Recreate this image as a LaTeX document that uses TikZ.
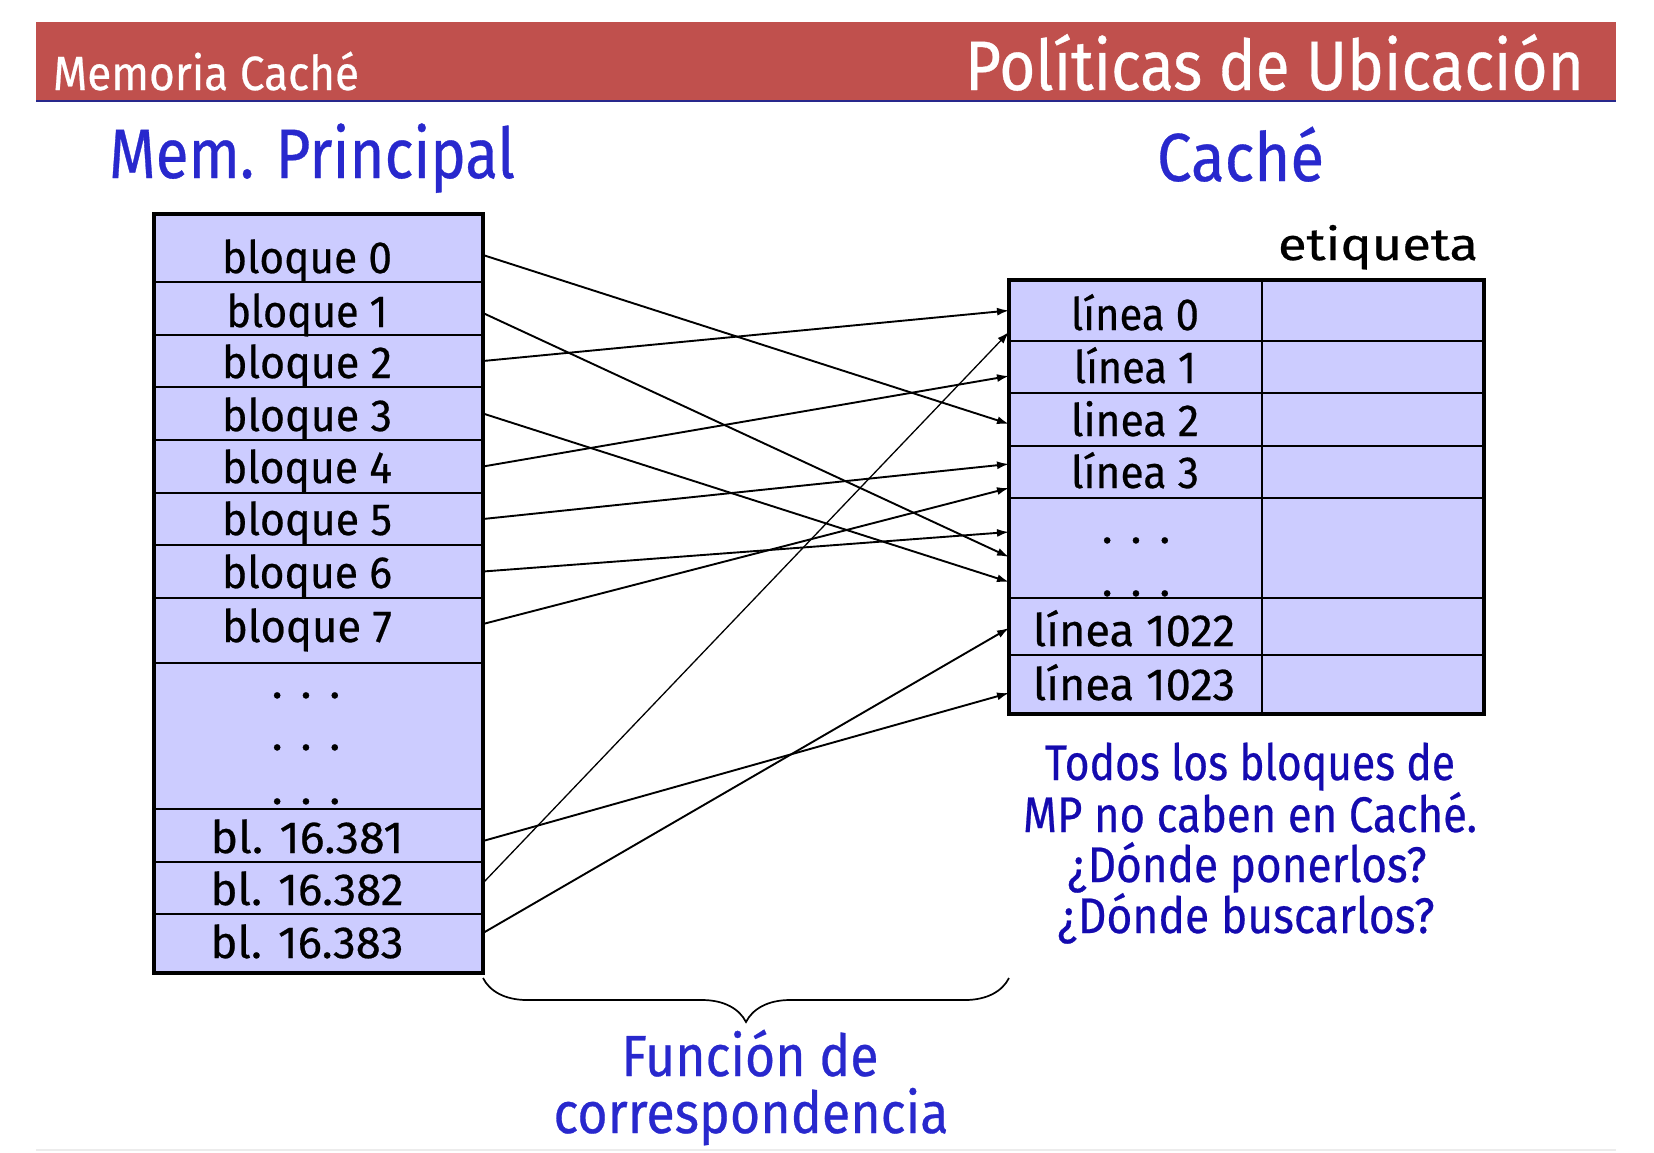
\documentclass[tikz,border=0pt]{standalone}
\usepackage{fontspec}
\setmainfont{Fira Sans}[FakeBold=0.5]
\usepackage{graphicx}
\usetikzlibrary{arrows.meta,decorations.pathreplacing}
\definecolor{hdrred}{RGB}{192,80,77}
\definecolor{hdrline}{RGB}{40,40,140}
\definecolor{cellfill}{RGB}{204,204,255}
\definecolor{titleblue}{RGB}{40,40,205}
\definecolor{qblue}{RGB}{20,10,175}
\newcommand{\tw}[2]{\resizebox{#1pt}{\height}{#2}}
\newcommand{\fs}[1]{\fontsize{#1pt}{#1pt}\selectfont}
\begin{document}
\begin{tikzpicture}[x=1pt,y=-1pt,
  cell/.style={draw=black, line width=1.8pt, fill=cellfill, inner sep=0pt, outer sep=0pt},
  txt/.style={inner sep=0pt, outer sep=0pt, anchor=base, font=\fs{45}},
  lt/.style={inner sep=0pt, outer sep=0pt, anchor=base west},
  conn/.style={line width=1.9pt, -{Latex[length=12pt,width=8pt]}},
  thinconn/.style={line width=1.3pt, -{Latex[length=12pt,width=8pt]}},
  qtxt/.style={inner sep=0pt, outer sep=0pt, anchor=base, font=\fs{50}, text=qblue},
  ftxt/.style={inner sep=0pt, outer sep=0pt, anchor=base, font=\fs{58}, text=titleblue},
  dots/.style={inner sep=0pt, outer sep=0pt, anchor=base, font=\fs{45}},
]
\useasboundingbox (0,0) rectangle (1654,1152);

% header
\fill[hdrred] (36,22) rectangle (1616,100);
\draw[hdrline, line width=2.5pt] (36,101) -- (1616,101);
\draw[gray!15, line width=2pt] (36,1150) -- (1616,1150);
\node[lt, text=white, font=\fs{48}] (hleft) at (53,90) {\tw{306}{Memoria Caché}};
\node[lt, text=white, font=\fs{70}] (hright) at (965,90) {\tw{619}{Políticas de Ubicación}};

% titles
\node[lt, text=titleblue, font=\fs{70}] (tmp) at (109,178) {\tw{406}{Mem. Principal}};
\node[lt, text=titleblue, font=\fs{68}] (tcache) at (1157,181) {\tw{167}{Caché}};
\node[txt] (tetiq) at (1378,260) {\tw{200}{etiqueta}};

% main memory cells
\node[cell, minimum width=329pt, minimum height=68pt] (b0) at (318.5,248) {};
\node[cell, minimum width=329pt, minimum height=53pt] (b1) at (318.5,308.5) {};
\node[cell, minimum width=329pt, minimum height=52pt] (b2) at (318.5,361) {};
\node[cell, minimum width=329pt, minimum height=53pt] (b3) at (318.5,413.5) {};
\node[cell, minimum width=329pt, minimum height=53pt] (b4) at (318.5,466.5) {};
\node[cell, minimum width=329pt, minimum height=52pt] (b5) at (318.5,519) {};
\node[cell, minimum width=329pt, minimum height=53pt] (b6) at (318.5,571.5) {};
\node[cell, minimum width=329pt, minimum height=65pt] (b7) at (318.5,630.5) {};
\node[cell, minimum width=329pt, minimum height=146pt] (bd) at (318.5,736) {};
\node[cell, minimum width=329pt, minimum height=53pt] (b16381) at (318.5,835.5) {};
\node[cell, minimum width=329pt, minimum height=52pt] (b16382) at (318.5,888) {};
\node[cell, minimum width=329pt, minimum height=59pt] (b16383) at (318.5,943.5) {};
\draw[line width=3.5pt] (b0.north west) rectangle (b16383.south east);

\node[txt] (tb0) at (307,273) {\tw{170}{bloque 0}};
\node[txt] (tb1) at (307,327) {\tw{161}{bloque 1}};
\node[txt] (tb2) at (307,378) {\tw{170}{bloque 2}};
\node[txt] (tb3) at (307,431) {\tw{170}{bloque 3}};
\node[txt] (tb4) at (307,483) {\tw{170}{bloque 4}};
\node[txt] (tb5) at (307,535) {\tw{170}{bloque 5}};
\node[txt] (tb6) at (307,588) {\tw{170}{bloque 6}};
\node[txt] (tb7) at (307,642) {\tw{170}{bloque 7}};
\node[dots] (dm1) at (306,698) {.\hspace{18pt}.\hspace{18pt}.};
\node[dots] (dm2) at (306,750) {.\hspace{18pt}.\hspace{18pt}.};
\node[dots] (dm3) at (306,804) {.\hspace{18pt}.\hspace{18pt}.};
\node[txt] (tb16381) at (307,853) {\tw{193}{bl. 16.381}};
\node[txt] (tb16382) at (307,905) {\tw{193}{bl. 16.382}};
\node[txt] (tb16383) at (307,958) {\tw{193}{bl. 16.383}};

% cache cells
\node[cell, minimum width=253pt, minimum height=61pt] (l0) at (1135.5,310.5) {};
\node[cell, minimum width=253pt, minimum height=52pt] (l1) at (1135.5,367) {};
\node[cell, minimum width=253pt, minimum height=53pt] (l2) at (1135.5,419.5) {};
\node[cell, minimum width=253pt, minimum height=52pt] (l3) at (1135.5,472) {};
\node[cell, minimum width=253pt, minimum height=100pt] (ld) at (1135.5,548) {};
\node[cell, minimum width=253pt, minimum height=57pt] (l1022) at (1135.5,626.5) {};
\node[cell, minimum width=253pt, minimum height=59pt] (l1023) at (1135.5,684.5) {};
\node[cell, minimum width=222pt, minimum height=61pt] (e0) at (1373,310.5) {};
\node[cell, minimum width=222pt, minimum height=52pt] (e1) at (1373,367) {};
\node[cell, minimum width=222pt, minimum height=53pt] (e2) at (1373,419.5) {};
\node[cell, minimum width=222pt, minimum height=52pt] (e3) at (1373,472) {};
\node[cell, minimum width=222pt, minimum height=100pt] (ed) at (1373,548) {};
\node[cell, minimum width=222pt, minimum height=57pt] (e1022) at (1373,626.5) {};
\node[cell, minimum width=222pt, minimum height=59pt] (e1023) at (1373,684.5) {};
\draw[line width=3.5pt] (l0.north west) rectangle (e1023.south east);

\node[txt] (tl0) at (1135,330) {\tw{128}{línea 0}};
\node[txt] (tl1) at (1135,383) {\tw{122}{línea 1}};
\node[txt] (tl2) at (1135,436) {\tw{128}{linea 2}};
\node[txt] (tl3) at (1135,488) {\tw{128}{línea 3}};
\node[dots] (dc1) at (1136,543) {.\hspace{18pt}.\hspace{18pt}.};
\node[dots] (dc2) at (1136,596) {.\hspace{18pt}.\hspace{18pt}.};
\node[txt] (tl1022) at (1134,646) {\tw{202}{línea 1022}};
\node[txt] (tl1023) at (1134,700) {\tw{202}{línea 1023}};

% connectors
\draw[conn] ([yshift=-7pt]b0.east) -- ([yshift=-4.5pt]l2.west);
\draw[conn] ([yshift=-4.5pt]b1.east) -- ([yshift=-9pt]ld.west);
\draw[conn] (b2.east) -- (l0.west);
\draw[conn] (b3.east) -- ([yshift=-34pt]ld.west);
\draw[conn] (b4.east) -- ([yshift=-9pt]l1.west);
\draw[conn] (b5.east) -- ([yshift=8pt]l3.west);
\draw[conn] (b6.east) -- ([yshift=16pt]ld.west);
\draw[conn] ([yshift=6.5pt]b7.east) -- ([yshift=-16pt]l3.west);
\draw[conn] ([yshift=-5.5pt]b16381.east) -- ([yshift=-8.5pt]l1023.west);
\draw[thinconn] ([yshift=5pt]b16382.east) -- ([yshift=-21.5pt]l0.west);
\draw[conn] ([yshift=10.5pt]b16383.east) -- ([yshift=-1.5pt]l1022.west);

% brace
\coordinate (brL) at (483,978);
\coordinate (brR) at (1009,978);
\draw[line width=1.7pt, decorate, decoration={brace, mirror, amplitude=44pt}] (brL) -- (brR);
\node[ftxt] (f1) at (750,1076) {\tw{257}{Función de}};
\node[ftxt] (f2) at (751,1133) {\tw{395}{correspondencia}};

% question text
\node[qtxt] (q1) at (1250,780) {\tw{410}{Todos los bloques de}};
\node[qtxt] (q2) at (1250,832) {\tw{454}{MP no caben en Caché.}};
\node[qtxt] (q3) at (1247,882) {\tw{359}{¿Dónde ponerlos?}};
\node[qtxt] (q4) at (1246,933) {\tw{377}{¿Dónde buscarlos?}};
\end{tikzpicture}
\end{document}
